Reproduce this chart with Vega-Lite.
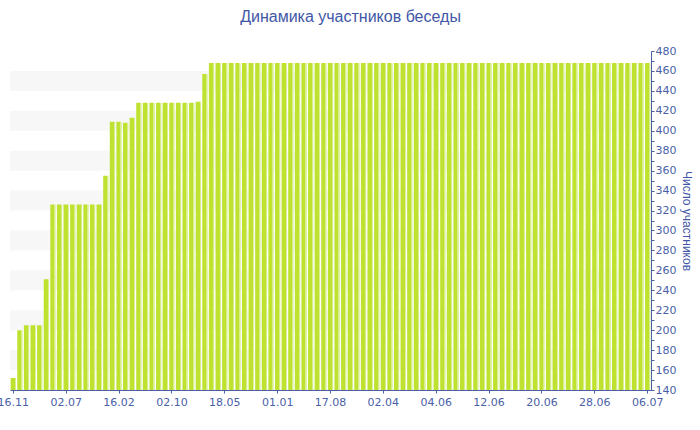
{
  "$schema": "https://vega.github.io/schema/vega-lite/v6.json",
  "width": 641,
  "height": 339,
  "autosize": {"type": "none"},
  "padding": {"left": 10, "top": 51, "right": 49, "bottom": 40},
  "background": "white",
  "title": {
    "text": "Динамика участников беседы",
    "anchor": "middle",
    "dx": 20,
    "offset": 20,
    "font": "Liberation Sans",
    "fontSize": 16,
    "fontWeight": "normal",
    "color": "#3f57a6"
  },
  "config": {
    "view": {"stroke": null},
    "axis": {
      "labelFont": "DejaVu Sans",
      "labelFontSize": 11,
      "labelColor": "#4a5fa8",
      "domainColor": "#4a5fa8",
      "tickColor": "#4a5fa8",
      "titleFont": "Liberation Sans",
      "titleFontSize": 12,
      "titleFontWeight": "normal",
      "titleColor": "#3f57a6",
      "grid": false
    }
  },
  "datasets": {
    "bands": [
      {"a": 160, "b": 180}, {"a": 200, "b": 220}, {"a": 240, "b": 260}, {"a": 280, "b": 300},
      {"a": 320, "b": 340}, {"a": 360, "b": 380}, {"a": 400, "b": 420}, {"a": 440, "b": 460}
    ],
    "bars": [
      {"i": 0, "v": 152}, {"i": 1, "v": 200}, {"i": 2, "v": 205}, {"i": 3, "v": 205}, {"i": 4, "v": 205},
      {"i": 5, "v": 251}, {"i": 6, "v": 326}, {"i": 7, "v": 326}, {"i": 8, "v": 326}, {"i": 9, "v": 326},
      {"i": 10, "v": 326}, {"i": 11, "v": 326}, {"i": 12, "v": 326}, {"i": 13, "v": 326}, {"i": 14, "v": 355},
      {"i": 15, "v": 409}, {"i": 16, "v": 409}, {"i": 17, "v": 408}, {"i": 18, "v": 413}, {"i": 19, "v": 428},
      {"i": 20, "v": 428}, {"i": 21, "v": 428}, {"i": 22, "v": 428}, {"i": 23, "v": 428}, {"i": 24, "v": 428},
      {"i": 25, "v": 428}, {"i": 26, "v": 428}, {"i": 27, "v": 428}, {"i": 28, "v": 429}, {"i": 29, "v": 457},
      {"i": 30, "v": 468}, {"i": 31, "v": 468}, {"i": 32, "v": 468}, {"i": 33, "v": 468}, {"i": 34, "v": 468},
      {"i": 35, "v": 468}, {"i": 36, "v": 468}, {"i": 37, "v": 468}, {"i": 38, "v": 468}, {"i": 39, "v": 468},
      {"i": 40, "v": 468}, {"i": 41, "v": 468}, {"i": 42, "v": 468}, {"i": 43, "v": 468}, {"i": 44, "v": 468},
      {"i": 45, "v": 468}, {"i": 46, "v": 468}, {"i": 47, "v": 468}, {"i": 48, "v": 468}, {"i": 49, "v": 468},
      {"i": 50, "v": 468}, {"i": 51, "v": 468}, {"i": 52, "v": 468}, {"i": 53, "v": 468}, {"i": 54, "v": 468},
      {"i": 55, "v": 468}, {"i": 56, "v": 468}, {"i": 57, "v": 468}, {"i": 58, "v": 468}, {"i": 59, "v": 468},
      {"i": 60, "v": 468}, {"i": 61, "v": 468}, {"i": 62, "v": 468}, {"i": 63, "v": 468}, {"i": 64, "v": 468},
      {"i": 65, "v": 468}, {"i": 66, "v": 468}, {"i": 67, "v": 468}, {"i": 68, "v": 468}, {"i": 69, "v": 468},
      {"i": 70, "v": 468}, {"i": 71, "v": 468}, {"i": 72, "v": 468}, {"i": 73, "v": 468}, {"i": 74, "v": 468},
      {"i": 75, "v": 468}, {"i": 76, "v": 468}, {"i": 77, "v": 468}, {"i": 78, "v": 468}, {"i": 79, "v": 468},
      {"i": 80, "v": 468}, {"i": 81, "v": 468}, {"i": 82, "v": 468}, {"i": 83, "v": 468}, {"i": 84, "v": 468},
      {"i": 85, "v": 468}, {"i": 86, "v": 468}, {"i": 87, "v": 468}, {"i": 88, "v": 468}, {"i": 89, "v": 468},
      {"i": 90, "v": 468}, {"i": 91, "v": 468}, {"i": 92, "v": 468}, {"i": 93, "v": 468}, {"i": 94, "v": 468},
      {"i": 95, "v": 468}, {"i": 96, "v": 468}
    ]
  },
  "layer": [
    {
      "data": {"name": "bands"},
      "mark": {"type": "rect", "color": "#f7f7f7"},
      "encoding": {
        "y": {
          "field": "a",
          "type": "quantitative",
          "scale": {"domain": [140, 480], "nice": false, "zero": false},
          "axis": {
            "orient": "right",
            "title": "Число участников",
            "values": [140, 150, 160, 170, 180, 190, 200, 210, 220, 230, 240, 250, 260, 270, 280, 290, 300, 310, 320, 330, 340, 350, 360, 370, 380, 390, 400, 410, 420, 430, 440, 450, 460, 470, 480],
            "labelExpr": "datum.value % 20 == 0 ? format(datum.value, 'd') : ''",
            "labelOverlap": false,
            "tickSize": 3,
            "labelPadding": 1,
            "titlePadding": 4
          }
        },
        "y2": {"field": "b"}
      }
    },
    {
      "data": {"name": "bars"},
      "mark": {
        "type": "bar",
        "clip": true,
        "color": {
          "gradient": "linear",
          "x1": 0, "x2": 1, "y1": 0, "y2": 0,
          "stops": [
            {"offset": 0, "color": "#bee22f"},
            {"offset": 0.76, "color": "#bee22f"},
            {"offset": 0.76, "color": "#d7ee88"},
            {"offset": 1, "color": "#d7ee88"}
          ]
        }
      },
      "encoding": {
        "x": {
          "field": "i",
          "type": "ordinal",
          "sort": null,
          "scale": {"paddingInner": 0.2, "paddingOuter": 0.1},
          "axis": {
            "title": null,
            "orient": "bottom",
            "values": [0, 8, 16, 24, 32, 40, 48, 56, 64, 72, 80, 88, 96],
            "labelExpr": "['16.11','02.07','16.02','02.10','18.05','01.01','17.08','02.04','04.06','12.06','20.06','28.06','06.07'][datum.value / 8]",
            "labelAngle": 0,
            "labelOverlap": false,
            "labelPadding": 3,
            "tickSize": 3
          }
        },
        "y": {
          "field": "v",
          "type": "quantitative",
          "scale": {"domain": [140, 480], "nice": false, "zero": false},
          "axis": {
            "orient": "right",
            "title": "Число участников",
            "values": [140, 150, 160, 170, 180, 190, 200, 210, 220, 230, 240, 250, 260, 270, 280, 290, 300, 310, 320, 330, 340, 350, 360, 370, 380, 390, 400, 410, 420, 430, 440, 450, 460, 470, 480],
            "labelExpr": "datum.value % 20 == 0 ? format(datum.value, 'd') : ''",
            "labelOverlap": false,
            "tickSize": 3,
            "labelPadding": 1,
            "titlePadding": 4
          }
        }
      }
    }
  ]
}
